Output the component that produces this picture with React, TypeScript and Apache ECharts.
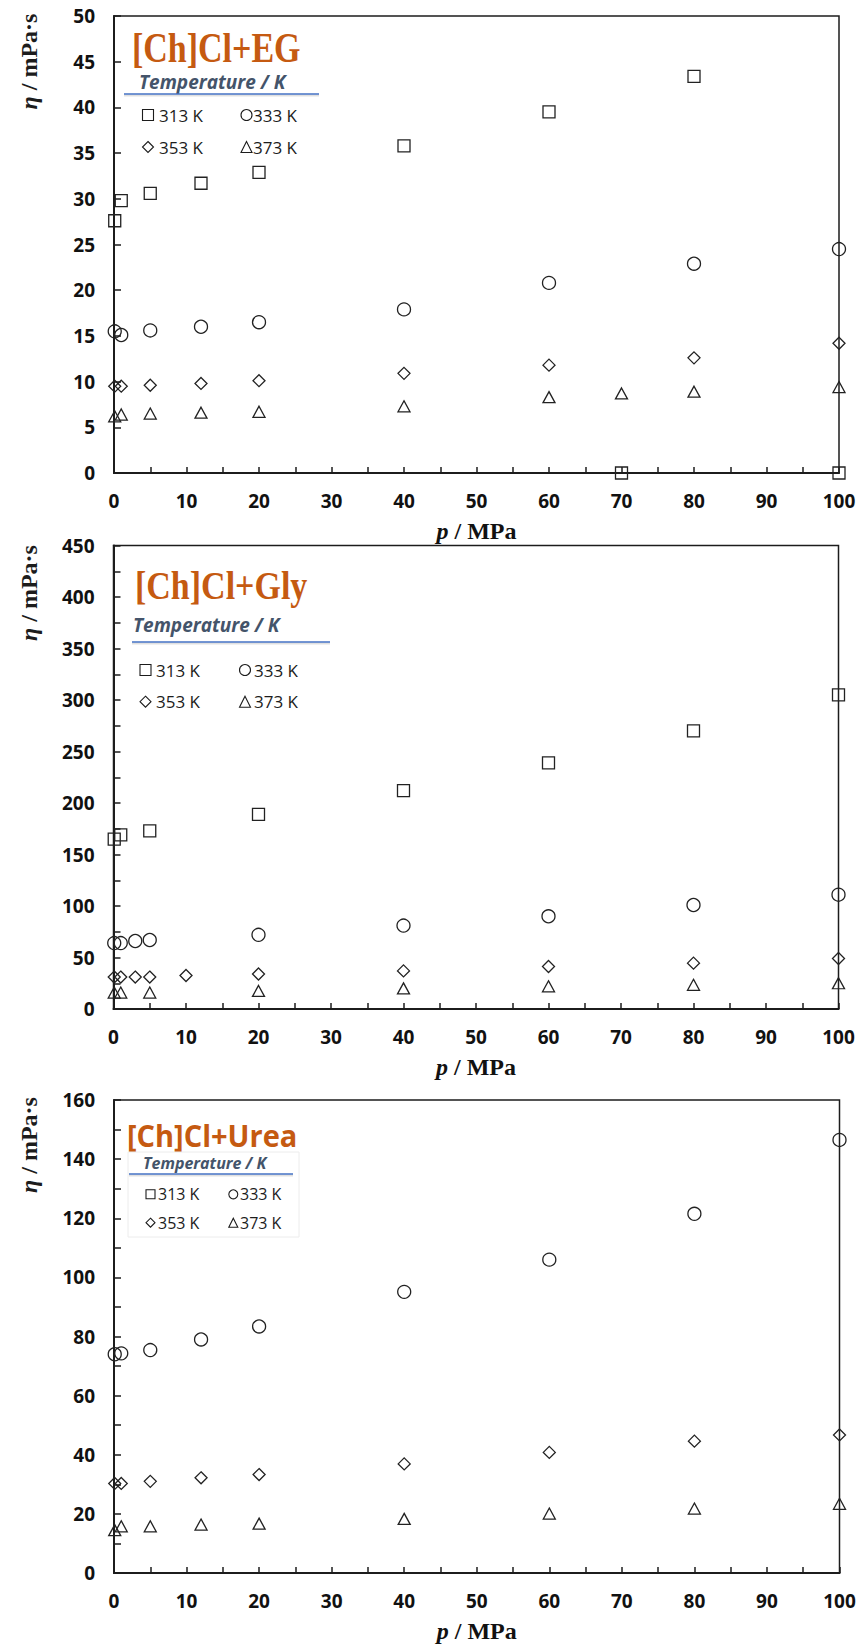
import React, { useEffect, useRef } from "react";
import * as echarts from "echarts";

// ---------- data ----------
// [Ch]Cl+EG
const egP313 = [0.1, 1, 5, 12, 20, 40, 60, 70, 80, 100];
const egV313 = [27.6, 29.8, 30.6, 31.7, 32.9, 35.8, 39.5, 0, 43.4, 0];
const egP333 = [0.1, 1, 5, 12, 20, 40, 60, 80, 100];
const egV333 = [15.5, 15.1, 15.6, 16.0, 16.5, 17.9, 20.8, 22.9, 24.5];
const egP353 = [0.1, 1, 5, 12, 20, 40, 60, 80, 100];
const egV353 = [9.5, 9.5, 9.6, 9.8, 10.1, 10.9, 11.8, 12.6, 14.2];
const egP373 = [0.1, 1, 5, 12, 20, 40, 60, 70, 80, 100];
const egV373 = [6.2, 6.4, 6.5, 6.6, 6.7, 7.3, 8.3, 8.7, 8.9, 9.4];

// [Ch]Cl+Gly
const glyP313 = [0.1, 1, 5, 20, 40, 60, 80, 100];
const glyV313 = [165, 169, 173, 189, 212, 239, 270, 305];
const glyP333 = [0.1, 1, 3, 5, 20, 40, 60, 80, 100];
const glyV333 = [64, 64, 66, 67, 72, 81, 90, 101, 111];
const glyP353 = [0.1, 1, 3, 5, 10, 20, 40, 60, 80, 100];
const glyV353 = [31, 31, 31, 31, 32.5, 34, 37, 41.3, 44.5, 49];
const glyP373 = [0.1, 1, 5, 20, 40, 60, 80, 100];
const glyV373 = [16, 16, 16, 17.5, 20, 22, 23.5, 25];

// [Ch]Cl+Urea
const ureaP313: number[] = [];
const ureaV313: number[] = [];
const ureaP333 = [0.1, 1, 5, 12, 20, 40, 60, 80, 100];
const ureaV333 = [74.0, 74.3, 75.4, 79.0, 83.4, 95.1, 106, 121.5, 146.5];
const ureaP353 = [0.1, 1, 5, 12, 20, 40, 60, 80, 100];
const ureaV353 = [30.3, 30.3, 31.0, 32.2, 33.3, 36.9, 40.8, 44.6, 46.7];
const ureaP373 = [0.1, 1, 5, 12, 20, 40, 60, 80, 100];
const ureaV373 = [14.5, 15.8, 15.8, 16.4, 16.7, 18.3, 20.1, 21.8, 23.4];

const titles = ["[Ch]Cl+EG", "[Ch]Cl+Gly", "[Ch]Cl+Urea"];
const tempLabels = ["313 K", "333 K", "353 K", "373 K"];
const yMax = [50, 450, 160];
const yInterval = [5, 50, 20];
const xTicks = { min: 0, max: 100, interval: 10 };

const zip = (p: number[], v: number[]) => p.map((x, i) => [x, v[i]]);

const panels = [
  [zip(egP313, egV313), zip(egP333, egV333), zip(egP353, egV353), zip(egP373, egV373)],
  [zip(glyP313, glyV313), zip(glyP333, glyV333), zip(glyP353, glyV353), zip(glyP373, glyV373)],
  [zip(ureaP313, ureaV313), zip(ureaP333, ureaV333), zip(ureaP353, ureaV353), zip(ureaP373, ureaV373)],
];

const INK = "#1c1c1c";
const symbols = ["rect", "circle", "diamond", "triangle"];
const symbolSizes: any[] = [12, 13, 12, [12, 11]];

const grids = [
  { left: 114, top: 16, width: 725, height: 457 },
  { left: 113.5, top: 545.5, width: 725, height: 463.5 },
  { left: 114, top: 1100, width: 725.5, height: 473 },
];

function legendBlock(
  c1: number, t1: number, c2: number, t2: number,
  r1: number, r2: number, s: number, fs: number
) {
  const h = s / 2;
  const els: any[] = [];
  const st = { fill: "none", stroke: INK, lineWidth: 1.1 };
  els.push({ type: "rect", shape: { x: c1 - h, y: r1 - h, width: s, height: s }, style: st });
  els.push({ type: "circle", shape: { cx: c2, cy: r1, r: h }, style: st });
  els.push({
    type: "polygon",
    shape: { points: [[c1, r2 - h], [c1 + h, r2], [c1, r2 + h], [c1 - h, r2]] },
    style: st,
  });
  els.push({
    type: "polygon",
    shape: { points: [[c2, r2 - h], [c2 + h, r2 + h], [c2 - h, r2 + h]] },
    style: st,
  });
  const txt = (x: number, y: number, t: string) => ({
    type: "text",
    x,
    y,
    style: {
      text: t,
      fontFamily: "Open Sans",
      fontSize: fs,
      fill: INK,
      align: "left",
      verticalAlign: "middle",
    },
  });
  els.push(txt(t1, r1, tempLabels[0]));
  els.push(txt(t2, r1, tempLabels[1]));
  els.push(txt(t1, r2, tempLabels[2]));
  els.push(txt(t2, r2, tempLabels[3]));
  return els;
}

function tempHeader(x: number, y: number, fs: number, lx1: number, lx2: number, ly: number) {
  return [
    {
      type: "text",
      x,
      y,
      style: {
        text: "Temperature / K",
        fontFamily: "Open Sans",
        fontWeight: "bold",
        fontStyle: "italic",
        fontSize: fs,
        fill: "#44546A",
        align: "left",
        verticalAlign: "middle",
      },
    },
    {
      type: "line",
      shape: { x1: lx1, y1: ly + 1.5, x2: lx2, y2: ly + 1.5 },
      style: { stroke: "rgba(0,0,0,0.12)", lineWidth: 2 },
    },
    {
      type: "line",
      shape: { x1: lx1, y1: ly, x2: lx2, y2: ly },
      style: { stroke: "#4472C4", lineWidth: 1.6 },
    },
  ];
}

function yName(cy: number) {
  return {
    type: "text",
    x: 29,
    y: cy,
    rotation: Math.PI / 2,
    style: {
      text: "{i|η} / mPa·s",
      fontFamily: "Liberation Serif",
      fontWeight: "bold",
      fontSize: 24,
      fill: INK,
      align: "center",
      verticalAlign: "middle",
      rich: {
        i: {
          fontFamily: "Liberation Serif",
          fontWeight: "bold",
          fontStyle: "italic",
          fontSize: 24,
          fill: INK,
        },
      },
    },
  };
}

export default function App() {
  const ref = useRef<HTMLDivElement>(null);
  useEffect(() => {
    if (!ref.current) return;
    const chart = echarts.init(ref.current, null, { renderer: "svg" });

    const xAxis = grids.map((_, i) => ({
      gridIndex: i,
      type: "value",
      min: xTicks.min,
      max: xTicks.max,
      interval: xTicks.interval,
      axisLine: { show: true, onZero: false, lineStyle: { color: INK, width: 2 } },
      axisTick: { show: true, inside: true, length: 6, lineStyle: { color: INK, width: 1.5 } },
      minorTick: { show: true, splitNumber: 2, length: 6, lineStyle: { color: INK, width: 1.5 } },
      splitLine: { show: false },
      axisLabel: {
        margin: 18,
        fontFamily: "Open Sans",
        fontWeight: "bold",
        fontSize: 19,
        color: "#111",
      },
      name: "{i|p} / MPa",
      nameLocation: "middle",
      nameGap: 46,
      nameTextStyle: {
        fontFamily: "Liberation Serif",
        fontWeight: "bold",
        fontSize: 24,
        color: "#111",
        rich: {
          i: {
            fontFamily: "Liberation Serif",
            fontWeight: "bold",
            fontStyle: "italic",
            fontSize: 24,
            color: "#111",
          },
        },
      },
    }));

    const yAxis = grids.map((_, i) => ({
      gridIndex: i,
      type: "value",
      min: 0,
      max: yMax[i],
      interval: yInterval[i],
      axisLine: { show: true, onZero: false, lineStyle: { color: INK, width: 2 } },
      axisTick: { show: true, inside: true, length: 7, lineStyle: { color: INK, width: 1.5 } },
      minorTick: {
        show: i > 0,
        splitNumber: 2,
        length: 7,
        lineStyle: { color: INK, width: 1.5 },
      },
      splitLine: { show: false },
      axisLabel: {
        margin: 19,
        fontFamily: "Open Sans",
        fontWeight: "bold",
        fontSize: 19,
        color: "#111",
      },
    }));

    const series: any[] = [];
    panels.forEach((sets, gi) => {
      sets.forEach((data, si) => {
        series.push({
          type: "scatter",
          name: `${titles[gi]} ${tempLabels[si]}`,
          xAxisIndex: gi,
          yAxisIndex: gi,
          data,
          symbol: symbols[si],
          symbolSize: symbolSizes[si],
          clip: false,
          itemStyle: {
            color: "rgba(255,255,255,0)",
            borderColor: "#222",
            borderWidth: 1.3,
            opacity: 1,
          },
        });
      });
    });

    const titleEl = (x: number, y: number, t: string, serif: boolean, fs: number, sy: number) => ({
      type: "text",
      x,
      y,
      scaleY: sy,
      style: {
        text: t,
        fontFamily: serif ? "Liberation Serif" : "Open Sans",
        fontWeight: "bold",
        fontSize: fs,
        fill: "#C55A11",
        align: "left",
        verticalAlign: "middle",
      },
    });

    const graphic: any[] = [
      titleEl(132, 47.5, titles[0], true, 34, 1.25),
      titleEl(135, 585, titles[1], true, 34, 1.2),
      titleEl(127, 1135, titles[2], false, 29, 1.05),
      ...tempHeader(139, 81.5, 19, 124, 319, 94),
      ...tempHeader(133, 624.5, 19, 132, 330, 642),
      {
        type: "rect",
        shape: { x: 128, y: 1152, width: 171, height: 85 },
        style: { fill: "none", stroke: "#ececec", lineWidth: 1 },
      },
      ...tempHeader(143, 1163, 16, 129, 293, 1174),
      ...legendBlock(148, 159, 246.5, 253, 115, 147, 11, 17),
      ...legendBlock(145.5, 156, 245, 254, 670, 701.7, 11, 17),
      ...legendBlock(150.5, 158, 233.3, 240, 1194.3, 1222.7, 9, 16),
      yName(61.5),
      yName(593),
      yName(1145),
    ];

    chart.setOption({
      animation: false,
      backgroundColor: "#ffffff",
      grid: grids.map((g) => ({
        ...g,
        show: true,
        borderColor: INK,
        borderWidth: 1.5,
        backgroundColor: "transparent",
        containLabel: false,
      })),
      xAxis,
      yAxis,
      series,
      graphic,
    });
    return () => chart.dispose();
  }, []);

  return (
    <div
      ref={ref}
      style={{ position: "absolute", left: 0, top: 0, width: 861, height: 1650, background: "#fff" }}
    />
  );
}
